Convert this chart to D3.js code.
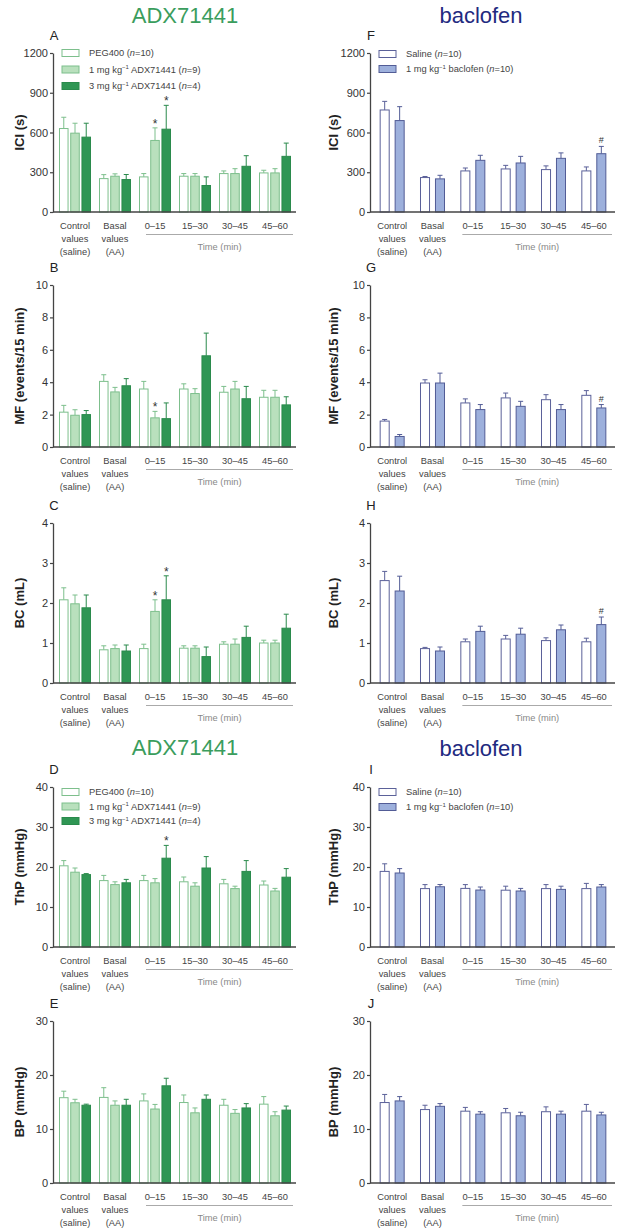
<!DOCTYPE html>
<html><head><meta charset="utf-8">
<script src="https://cdn.jsdelivr.net/npm/d3@7"></script>
<style>body{margin:0;background:#fff;} text{font-family:"Liberation Sans",Arial,sans-serif;}</style>
</head><body><svg id="c" width="621" height="1231"></svg>
<script>
// ---------- DATA ----------
const groups = ["Control", "Basal", "0–15", "15–30", "30–45", "45–60"];
const groupLabels = [["Control","values","(saline)"],["Basal","values","(AA)"],["0–15"],["15–30"],["30–45"],["45–60"]];

// ICI (s)
const iciPEG = [630,252,265,270,290,295],   iciPEGsem = [85,30,25,20,20,20];
const iciADX1 = [595,270,540,270,290,295],  iciADX1sem = [75,18,95,20,37,32];
const iciADX3 = [565,245,625,200,345,420],  iciADX3sem = [105,38,180,65,80,100];
const iciSal = [770,260,310,325,320,310],   iciSalsem = [65,8,22,27,28,30];
const iciBac = [690,250,390,370,405,440],   iciBacsem = [105,27,38,50,41,55];
// MF (events/15 min)
const mfPEG = [2.15,4.05,3.58,3.58,3.38,3.07], mfPEGsem = [0.42,0.41,0.47,0.32,0.36,0.43];
const mfADX1 = [1.96,3.4,1.8,3.3,3.58,3.07],   mfADX1sem = [0.34,0.28,0.4,0.3,0.47,0.43];
const mfADX3 = [2.0,3.78,1.75,5.63,2.98,2.6],  mfADX3sem = [0.25,0.44,0.97,1.4,0.76,0.5];
const mfSal = [1.6,3.95,2.72,3.03,2.92,3.19],  mfSalsem = [0.1,0.2,0.25,0.3,0.31,0.29];
const mfBac = [0.65,3.95,2.31,2.51,2.31,2.41], mfBacsem = [0.12,0.61,0.31,0.31,0.31,0.21];
// BC (mL)
const bcPEG = [2.08,0.83,0.86,0.87,0.97,1.0],  bcPEGsem = [0.3,0.1,0.11,0.06,0.06,0.07];
const bcADX1 = [1.98,0.86,1.79,0.87,0.97,1.0], bcADX1sem = [0.22,0.09,0.29,0.06,0.13,0.07];
const bcADX3 = [1.88,0.8,2.08,0.66,1.14,1.37], bcADX3sem = [0.32,0.15,0.6,0.24,0.28,0.35];
const bcSal = [2.56,0.86,1.03,1.1,1.06,1.03],  bcSalsem = [0.23,0.03,0.07,0.09,0.07,0.09];
const bcBac = [2.3,0.8,1.29,1.22,1.33,1.46],   bcBacsem = [0.37,0.1,0.13,0.15,0.12,0.19];
// ThP (mmHg)
const thpPEG = [20.3,16.6,16.6,16.3,15.8,15.5],   thpPEGsem = [1.3,1.3,1.3,1.2,1.1,1.0];
const thpADX1 = [18.7,15.6,16.05,15.2,14.6,14.0], thpADX1sem = [1.05,0.7,1.05,0.85,0.6,0.65];
const thpADX3 = [18.1,16.05,22.2,19.75,18.9,17.45], thpADX3sem = [0.25,0.85,3.2,2.85,2.7,2.15];
const thpSal = [18.9,14.6,14.65,14.2,14.6,14.6],  thpSalsem = [1.9,1.0,0.95,1.0,1.0,1.3];
const thpBac = [18.5,15.06,14.24,14.0,14.4,15.0], thpBacsem = [1.1,0.55,0.76,0.65,0.8,0.6];
// BP (mmHg)
const bpPEG = [15.8,15.85,15.2,14.9,14.4,14.6],   bpPEGsem = [1.2,1.8,1.3,1.4,1.1,1.4];
const bpADX1 = [14.86,14.4,13.7,13.0,12.9,12.45], bpADX1sem = [0.64,0.8,0.85,0.9,0.7,0.75];
const bpADX3 = [14.4,14.4,18.0,15.5,13.9,13.5],   bpADX3sem = [0.2,1.1,1.4,0.8,0.8,0.75];
const bpSal = [14.9,13.6,13.3,13.0,13.2,13.3],    bpSalsem = [1.5,0.8,0.7,0.8,0.9,1.25];
const bpBac = [15.2,14.2,12.75,12.45,12.75,12.6], bpBacsem = [0.8,0.5,0.45,0.65,0.55,0.5];

// significance marks: [seriesIndex, groupIndex, symbol]
const sigA = [[1,2,"*"],[2,2,"*"]];
const sigB = [[1,2,"*"]];
const sigC = [[1,2,"*"],[2,2,"*"]];
const sigD = [[2,2,"*"]];
const sigF = [[1,5,"#"]];
const sigG = [[1,5,"#"]];
const sigH = [[1,5,"#"]];

const ticksICI = [0,300,600,900,1200];
const ticksMF = [0,2,4,6,8,10];
const ticksBC = [0,1,2,3,4];
const ticksThP = [0,10,20,30,40];
const ticksBP = [0,10,20,30];

// ---------- STYLE ----------
const adxStyles = [
  {fill:"#ffffff", stroke:"#7dbf8c"},
  {fill:"#b9e0bd", stroke:"#7dbf8c"},
  {fill:"#2f9654", stroke:"#2a8a4c"}
];
const bacStyles = [
  {fill:"#ffffff", stroke:"#5b6199"},
  {fill:"#9db0dc", stroke:"#525c96"}
];
const axisColor = "#444";

const svg = d3.select("#c");

function drawPanel(cfg){
  const g = svg.append("g");
  const y = d3.scaleLinear().domain([0, d3.max(cfg.ticks)]).range([cfg.yBot, cfg.yTop]);
  const n = cfg.series.length;
  const xb = d3.scaleBand().domain(groups).range([cfg.x0 + 2, cfg.x1])
    .paddingInner(n === 3 ? 0.2 : 0.38).paddingOuter(n === 3 ? 0.1 : 0.19);
  const xi = d3.scaleBand().domain(d3.range(n)).range([0, xb.bandwidth()])
    .paddingInner(n === 3 ? 0.15 : 0.33);

  cfg.series.forEach((s, si) => {
    const data = s.mean.map((m, i) => ({m, e: s.sem[i], g: groups[i]}));
    const st = cfg.styles[si];
    g.selectAll(null).data(data).join("line")
      .attr("x1", d => xb(d.g) + xi(si) + xi.bandwidth()/2)
      .attr("x2", d => xb(d.g) + xi(si) + xi.bandwidth()/2)
      .attr("y1", d => y(d.m)).attr("y2", d => y(d.m + d.e))
      .attr("stroke", st.stroke).attr("stroke-width", 1);
    g.selectAll(null).data(data).join("line")
      .attr("x1", d => xb(d.g) + xi(si) + xi.bandwidth()/2 - 2.5)
      .attr("x2", d => xb(d.g) + xi(si) + xi.bandwidth()/2 + 2.5)
      .attr("y1", d => y(d.m + d.e)).attr("y2", d => y(d.m + d.e))
      .attr("stroke", st.stroke).attr("stroke-width", 1);
    g.selectAll(null).data(data).join("rect")
      .attr("x", d => xb(d.g) + xi(si) + 0.5)
      .attr("width", xi.bandwidth() - 1)
      .attr("y", d => y(d.m))
      .attr("height", d => y(0) - y(d.m))
      .attr("fill", st.fill).attr("stroke", st.stroke).attr("stroke-width", 1);
  });

  (cfg.sig || []).forEach(([si, gi, sym]) => {
    const s = cfg.series[si];
    g.append("text")
      .attr("x", xb(groups[gi]) + xi(si) + xi.bandwidth()/2)
      .attr("y", y(s.mean[gi] + s.sem[gi]) - (sym === "*" ? 0 : 3))
      .attr("text-anchor", "middle").attr("font-size", sym === "*" ? 12 : 9)
      .attr("fill", "#333").text(sym);
  });

  const ax = g.append("g").attr("transform", `translate(${cfg.x0},0)`)
    .call(d3.axisLeft(y).tickValues(cfg.ticks).tickFormat(d3.format("d"))
      .tickSize(3).tickSizeOuter(0).tickPadding(2));
  ax.select(".domain").attr("stroke", axisColor).attr("stroke-width", 1.3);
  ax.selectAll(".tick line").attr("stroke", axisColor).attr("stroke-width", 1.2);
  ax.selectAll(".tick text").attr("font-size", 11).attr("fill", "#333")
    .attr("font-family", "Liberation Sans, Arial, sans-serif");

  g.append("line").attr("x1", cfg.x0).attr("x2", cfg.x1 + 1)
    .attr("y1", y(0)).attr("y2", y(0)).attr("stroke", axisColor).attr("stroke-width", 1.3);

  groupLabels.forEach((lines, i) => {
    const t = g.append("text").attr("text-anchor", "middle").attr("font-size", 9.3).attr("fill", "#444");
    lines.forEach((ln, li) => {
      t.append("tspan").attr("x", xb(groups[i]) + xb.bandwidth()/2)
        .attr("y", y(0) + 16.5 + li * 13).text(ln);
    });
  });
  const tx0 = xb(groups[2]) + (n === 3 ? 7 : 2);
  const tx1 = cfg.x1 - 2;
  g.append("line").attr("x1", tx0).attr("x2", tx1).attr("y1", y(0) + 22.5).attr("y2", y(0) + 22.5)
    .attr("stroke", "#aaa").attr("stroke-width", 1);
  g.append("text").attr("x", (tx0 + tx1)/2).attr("y", y(0) + 37.5).attr("text-anchor", "middle")
    .attr("font-size", 9.3).attr("fill", "#888").text("Time (min)");

  g.append("text").attr("transform", `translate(${cfg.titleX},${(cfg.yTop + cfg.yBot)/2}) rotate(-90)`)
    .attr("text-anchor", "middle").attr("dominant-baseline", "central")
    .attr("font-size", 13).attr("font-weight", "bold").attr("fill", "#222").text(cfg.ylabel);

  g.append("text").attr("x", cfg.x0 + 1).attr("y", cfg.yTop - 13).attr("text-anchor", "middle")
    .attr("font-size", 13).attr("fill", "#222").text(cfg.letter);

  if (cfg.legend) {
    cfg.legend.forEach((item, k) => {
      const ly = cfg.legendY + k * cfg.legendDy;
      const st = cfg.styles[k];
      g.append("rect").attr("x", cfg.x0 + 9).attr("y", ly - 3.5).attr("width", 17).attr("height", 7)
        .attr("fill", st.fill).attr("stroke", st.stroke).attr("stroke-width", 1);
      const t = g.append("text").attr("x", cfg.x0 + 36).attr("y", ly + 3.3)
        .attr("font-size", 9.3).attr("fill", "#444");
      item.forEach(p => {
        const sp = t.append("tspan").text(p.t);
        if (p.i) sp.attr("font-style", "italic");
        if (p.sup) sp.attr("font-size", 6).attr("dy", -3.5);
        if (p.after) sp.attr("dy", 3.5);
      });
    });
  }
}

const adxLegend = [
  [{t:"PEG400 ("},{t:"n",i:1},{t:"=10)"}],
  [{t:"1 mg kg"},{t:"−1",sup:1},{t:" ADX71441  (",after:1},{t:"n",i:1},{t:"=9)"}],
  [{t:"3 mg kg"},{t:"−1",sup:1},{t:" ADX71441 (",after:1},{t:"n",i:1},{t:"=4)"}]
];
const bacLegend = [
  [{t:"Saline  ("},{t:"n",i:1},{t:"=10)"}],
  [{t:"1 mg kg"},{t:"−1",sup:1},{t:" baclofen (",after:1},{t:"n",i:1},{t:"=10)"}]
];

const L = {x0: 53, x1: 295, titleX: 19};
const R = {x0: 370, x1: 614, titleX: 333};
const rows = [
  {yTop: 53, yBot: 212},
  {yTop: 285, yBot: 447},
  {yTop: 523, yBot: 683},
  {yTop: 787, yBot: 947},
  {yTop: 1021, yBot: 1183}
];

const mk = (m, s) => ({mean: m, sem: s});

drawPanel({...L, ...rows[0], ticks: ticksICI, ylabel: "ICI (s)", letter: "A", styles: adxStyles, sig: sigA,
  series: [mk(iciPEG, iciPEGsem), mk(iciADX1, iciADX1sem), mk(iciADX3, iciADX3sem)],
  legend: adxLegend, legendY: 53, legendDy: 16.5});
drawPanel({...L, ...rows[1], ticks: ticksMF, ylabel: "MF (events/15 min)", letter: "B", styles: adxStyles, sig: sigB,
  series: [mk(mfPEG, mfPEGsem), mk(mfADX1, mfADX1sem), mk(mfADX3, mfADX3sem)]});
drawPanel({...L, ...rows[2], ticks: ticksBC, ylabel: "BC (mL)", letter: "C", styles: adxStyles, sig: sigC,
  series: [mk(bcPEG, bcPEGsem), mk(bcADX1, bcADX1sem), mk(bcADX3, bcADX3sem)]});
drawPanel({...L, ...rows[3], ticks: ticksThP, ylabel: "ThP (mmHg)", letter: "D", styles: adxStyles, sig: sigD,
  series: [mk(thpPEG, thpPEGsem), mk(thpADX1, thpADX1sem), mk(thpADX3, thpADX3sem)],
  legend: adxLegend, legendY: 792, legendDy: 14.5});
drawPanel({...L, ...rows[4], ticks: ticksBP, ylabel: "BP (mmHg)", letter: "E", styles: adxStyles,
  series: [mk(bpPEG, bpPEGsem), mk(bpADX1, bpADX1sem), mk(bpADX3, bpADX3sem)]});

drawPanel({...R, ...rows[0], ticks: ticksICI, ylabel: "ICI (s)", letter: "F", styles: bacStyles, sig: sigF,
  series: [mk(iciSal, iciSalsem), mk(iciBac, iciBacsem)],
  legend: bacLegend, legendY: 54, legendDy: 15});
drawPanel({...R, ...rows[1], ticks: ticksMF, ylabel: "MF (events/15 min)", letter: "G", styles: bacStyles, sig: sigG,
  series: [mk(mfSal, mfSalsem), mk(mfBac, mfBacsem)]});
drawPanel({...R, ...rows[2], ticks: ticksBC, ylabel: "BC (mL)", letter: "H", styles: bacStyles, sig: sigH,
  series: [mk(bcSal, bcSalsem), mk(bcBac, bcBacsem)]});
drawPanel({...R, ...rows[3], ticks: ticksThP, ylabel: "ThP (mmHg)", letter: "I", styles: bacStyles,
  series: [mk(thpSal, thpSalsem), mk(thpBac, thpBacsem)],
  legend: bacLegend, legendY: 792, legendDy: 15});
drawPanel({...R, ...rows[4], ticks: ticksBP, ylabel: "BP (mmHg)", letter: "J", styles: bacStyles,
  series: [mk(bpSal, bpSalsem), mk(bpBac, bpBacsem)]});

[[185, 15, "ADX71441", "#3a9d5d"], [185, 747, "ADX71441", "#3a9d5d"],
 [481, 15, "baclofen", "#1f2a80"], [481, 748, "baclofen", "#1f2a80"]].forEach(([x, y, t, c]) => {
  svg.append("text").attr("x", x).attr("y", y).attr("text-anchor", "middle")
    .attr("dominant-baseline", "central").attr("font-size", 22).attr("fill", c).text(t);
});
</script></body></html>
